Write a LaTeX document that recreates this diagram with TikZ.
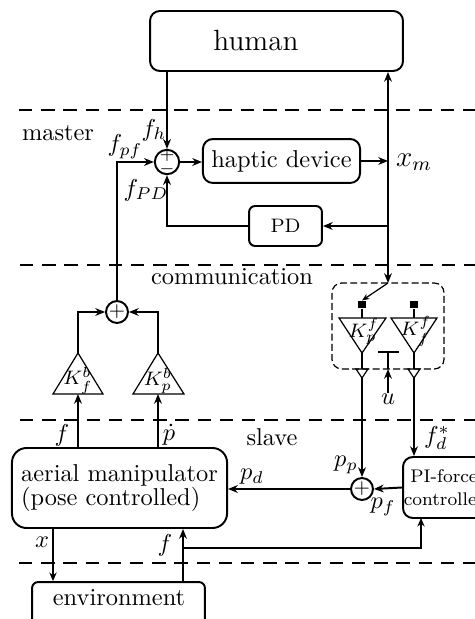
\documentclass[tikz,border=0pt]{standalone}
\usetikzlibrary{arrows.meta,calc}
\begin{document}
\begin{tikzpicture}[x=0.41pt,y=-0.41pt,
  arr/.style={-{Stealth[length=4pt,width=3.2pt]},line width=0.8pt},
  darr/.style={{Stealth[length=4pt,width=3.2pt]}-{Stealth[length=4pt,width=3.2pt]},line width=0.8pt},
  tarr/.style={-{Stealth[length=3pt,width=2.4pt]},line width=0.5pt},
  thinln/.style={line width=0.5pt},
  boxr/.style={draw,line width=0.8pt,rounded corners=4pt,inner sep=0pt},
  boxs/.style={draw,line width=0.8pt,rounded corners=2.5pt,inner sep=0pt},
  boxa/.style={draw,line width=0.8pt,rounded corners=6pt,inner sep=0pt},
  sumnode/.style={draw,circle,line width=0.8pt,minimum size=9pt,inner sep=0pt},
  sepline/.style={line width=1.2pt,dash pattern=on 5.5pt off 3.6pt},
  lbl/.style={inner sep=0pt},
  klbl/.style={inner sep=0pt,font=\footnotesize},
  sq/.style={fill,minimum size=2.9pt,inner sep=0pt}]
\clip (0,0) rectangle (475,619);

% layer separators
\draw[sepline] (19,110) -- (480,110);
\draw[sepline] (20,265) -- (480,265);
\draw[sepline] (20,420) -- (480,420);
\draw[sepline] (19,563) -- (480,563);

% layer names
\node[lbl] (tmaster) at (58,133) {master};
\node[lbl] (tcomm) at (232,277) {communication};
\node[lbl] (tslave) at (272,437) {slave};

% blocks
\node[boxr,minimum width=103.7pt,minimum height=24.6pt] (human) at (276.5,41) {};
\node[lbl,font=\large] (humantext) at (256,40) {human};
\node[boxr,minimum width=64.4pt,minimum height=18pt] (haptic) at (281.5,161) {haptic device};
\node[boxs,minimum width=29.9pt,minimum height=16.4pt,font=\footnotesize] (PD) at (285.5,226) {PD};
\node[boxa,minimum width=88.2pt,minimum height=32.8pt,align=left] (aerial) at (119.5,488) {aerial manipulator\\[-2pt](pose controlled)};
\node[boxr,minimum width=33.6pt,minimum height=25pt,align=center,font=\fontsize{7.5}{9.5}\selectfont] (PI) at (444,487.5) {PI-force\\controller};
\node[boxs,minimum width=70.9pt,minimum height=18pt] (env) at (118.5,604) {};
\node[lbl] (envtext) at (119,598) {environment};

% summing junctions
\node[sumnode,minimum size=10pt] (sumM) at (167,162) {};
\node[lbl,font=\scriptsize] (sgnp) at (167,155.5) {$+$};
\node[lbl,font=\scriptsize] (sgnm) at (167,169) {$-$};
\node[sumnode] (sumB) at (117,312) {\footnotesize$+$};
\node[sumnode] (sumP) at (362,489) {\footnotesize$+$};

% key coordinates
\coordinate (xb) at (388,283);
\coordinate (tfbA) at (78,353);
\coordinate (tfbB) at (78,394);
\coordinate (tpbA) at (158,353);
\coordinate (tpbB) at (158,394);
\coordinate (v1) at (362,378);
\coordinate (v2) at (414,378);
\coordinate (xenv) at (53,0);
\coordinate (fenv) at (183,0);
\coordinate (fbr) at (183,548);
\coordinate (piin) at (421,518);

% back-channel triangles
\draw[thinln] (53,394) -- (103,394) -- (tfbA) -- cycle;
\node[klbl] (kfb) at (78,381) {$K_f^b$};
\draw[thinln] (133,394) -- (184,394) -- (tpbA) -- cycle;
\node[klbl] (kpb) at (158,381) {$K_p^b$};

% communication block
\draw[thinln,dash pattern=on 2.8pt off 1.4pt,rounded corners=4pt] (332,283) rectangle (444,369);
\node[sq] (sq1) at (362,304.5) {};
\node[sq] (sq2) at (414,304.5) {};
\draw[thinln] (sq1.south) -- (362,318);
\draw[thinln] (sq2.south) -- (414,318);
\draw[thinln] (339,318) -- (386,318) -- (362,353) -- cycle;
\draw[thinln] (391,318) -- (437,318) -- (414,353) -- cycle;
\node[klbl] (kpf) at (364,331) {$K_p^f$};
\node[klbl] (kff) at (416,331) {$K_f^f$};
\draw[thinln] (362,353) -- (362,369);
\draw[thinln] (414,353) -- (414,369);
\draw[thinln] (356,369) -- (v1) -- (368,369) -- cycle;
\draw[thinln] (408,369) -- (v2) -- (420,369) -- cycle;
\draw[thinln] (378,352) -- (399,352);
\draw[thinln] (388,352) -- (388,369);
\node[lbl] (u) at (388,399) {$u$};
\draw[arr] (u.north) -- (388,369);
\draw[tarr] (xb) -- (sq1.north);

% master connections
\draw[arr] (sumM |- human.south) -- (sumM.north);
\draw[arr] (sumM.east) -- (sumM.east -| haptic.west);
\draw[darr] (human.south -| xb) -- (xb);
\draw[arr] (haptic.east) -- (haptic.east -| xb);
\draw[arr] (PD.east -| xb) -- (PD.east);
\draw[arr] (PD.west) -| (sumM.south);
\draw[arr] (sumB.north) |- (sumM.west);
\draw[arr] (tfbA) |- (sumB.west);
\draw[arr] (tpbA) |- (sumB.east);
\draw[arr] (aerial.north -| tfbB) -- (tfbB);
\draw[arr] (aerial.north -| tpbB) -- (tpbB);

% slave connections
\draw[arr] (v1) -- (sumP.north);
\draw[arr] (v2) -- (v2 |- PI.north);
\draw[arr] (PI.west) -- (sumP.east);
\draw[arr] (sumP.west) -- (sumP.west -| aerial.east);
\draw[-{Stealth[length=3.5pt,width=3pt]},line width=0.6pt] (aerial.south -| xenv) -- (env.north -| xenv);
\draw[arr] (env.north -| fenv) -- (aerial.south -| fenv);
\draw[-{Stealth[length=3.5pt,width=3pt]},line width=0.5pt] (fbr) -| (piin);

% signal labels
\node[lbl] (lfh) at (154,130) {$f_h$};
\node[lbl] (lfpf) at (125,147) {$f_{pf}$};
\node[lbl] (lfpd) at (146,190) {$f_{PD}$};
\node[lbl,font=\large] (lxm) at (414,162) {$x_m$};
\node[lbl] (lf1) at (62,435) {$f$};
\node[lbl] (lpdot) at (169,435) {$\dot p$};
\node[lbl] (lpd) at (252,477) {$p_d$};
\node[lbl] (lpp) at (346,465) {$p_p$};
\node[lbl] (lpf) at (383,507) {$p_f$};
\node[lbl] (lfd) at (437,438) {$f_d^*$};
\node[lbl] (lx) at (42,542) {$x$};
\node[lbl] (lf2) at (165,545) {$f$};
\end{tikzpicture}
\end{document}
